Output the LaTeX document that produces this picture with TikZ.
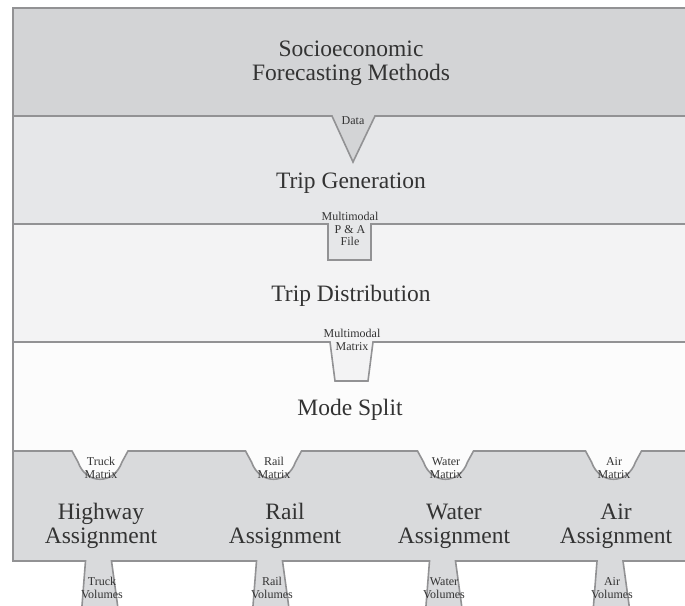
\documentclass[tikz,border=0pt]{standalone}
\usepackage{fontspec}
\setmainfont{Liberation Serif}
\definecolor{bandA}{HTML}{D3D4D6}
\definecolor{bandB}{HTML}{E6E7E9}
\definecolor{bandC}{HTML}{F3F3F4}
\definecolor{bandD}{HTML}{FCFCFC}
\definecolor{bandE}{HTML}{D9DADC}
\definecolor{edge}{HTML}{929294}
\definecolor{ink}{HTML}{333333}
\tikzset{
  band/.style={draw=edge, line width=1.6pt, line join=miter},
  stage/.style={text=ink, align=center, inner sep=0pt,
    font=\fontsize{23.5}{24}\selectfont},
  tag/.style={text=ink, align=center, inner sep=0pt,
    font=\fontsize{12}{12.5}\selectfont}
}
\begin{document}
\begin{tikzpicture}[x=1pt, y=-1pt]
  \useasboundingbox (0,0) rectangle (685,605);
  \clip (0,0) rectangle (685,605);
  \fill[white] (0,0) rectangle (685,605);

  % Assignment band with the four volume tabs hanging below
  \filldraw[band, fill=bandE] (700,451) -- (13,451) -- (13,561)
    \foreach \c in {98.5,269.5,442.5,610} {
      -- (\c-13,561) -- (\c-17,612) -- (\c+20,612) -- (\c+13,561)
    } -- (700,561) -- cycle;

  % Mode split band with the four matrix bowls
  \filldraw[band, fill=bandD] (700,342) -- (13,342) -- (13,451)
    \foreach \c in {100,273.5,445.5,613.5} {
      -- (\c-28,451) -- (\c-22,462)
      .. controls (\c-14,485) and (\c+14,485) .. (\c+22,462)
      -- (\c+28,451)
    } -- (700,451) -- cycle;

  % Trip distribution band with the matrix trapezoid
  \filldraw[band, fill=bandC] (700,224) -- (13,224) -- (13,342)
    -- (330,342) -- (335,381) -- (368,381) -- (373,342)
    -- (700,342) -- cycle;

  % Trip generation band with the P & A file box
  \filldraw[band, fill=bandB] (700,116) -- (13,116) -- (13,224)
    -- (328,224) -- (328,260) -- (371,260) -- (371,224)
    -- (700,224) -- cycle;

  % Socioeconomic band with the data wedge
  \filldraw[band, fill=bandA] (700,8) -- (13,8) -- (13,116)
    -- (332,116) -- (353,162) -- (375,116)
    -- (700,116) -- cycle;

  % Stage titles
  \node[stage] (socio) at (351,63) {Socioeconomic\\Forecasting Methods};
  \node[stage] (tripgen) at (351,183) {Trip Generation};
  \node[stage] (tripdist) at (351,296) {Trip Distribution};
  \node[stage] (modesplit) at (350,410) {Mode Split};
  \node[stage] (hwy) at (101,526) {Highway\\Assignment};
  \node[stage] (rail) at (285,526) {Rail\\Assignment};
  \node[stage] (water) at (454,526) {Water\\Assignment};
  \node[stage] (air) at (616,526) {Air\\Assignment};

  % Hand-off labels
  \node[tag] (data) at (353,121) {Data};
  \node[tag] (pafile) at (350,229) {Multimodal\\P \& A\\File};
  \node[tag] (mmatrix) at (352,340) {Multimodal\\Matrix};
  \node[tag] (truckm) at (101,468) {Truck\\Matrix};
  \node[tag] (railm) at (274,468) {Rail\\Matrix};
  \node[tag] (waterm) at (446,468) {Water\\Matrix};
  \node[tag] (airm) at (614,468) {Air\\Matrix};
  \node[tag] (truckv) at (102,588) {Truck\\Volumes};
  \node[tag] (railv) at (272,588) {Rail\\Volumes};
  \node[tag] (waterv) at (444,588) {Water\\Volumes};
  \node[tag] (airv) at (612,588) {Air\\Volumes};
\end{tikzpicture}
\end{document}
